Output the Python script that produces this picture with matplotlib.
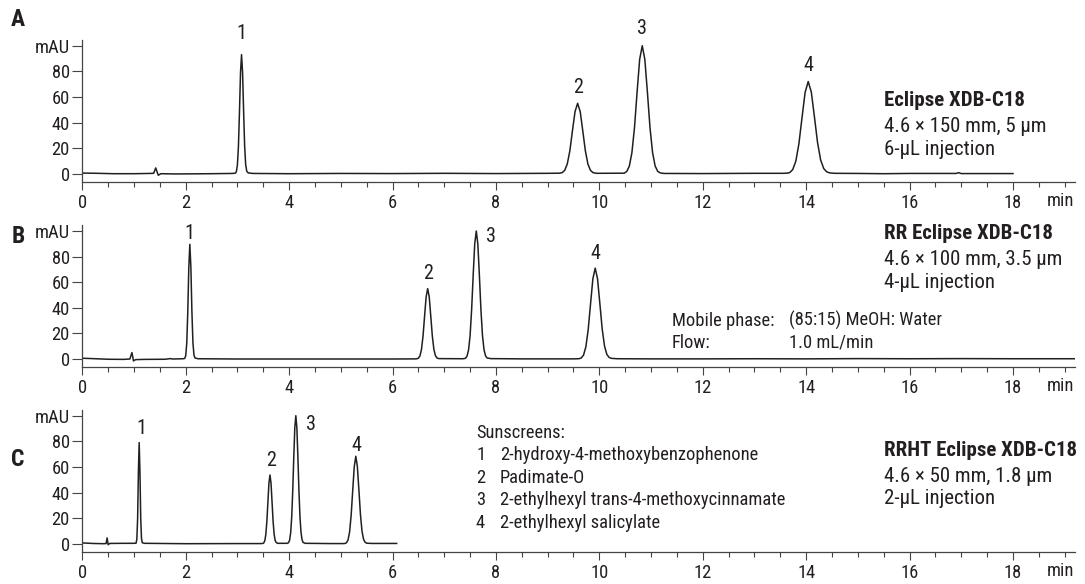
import numpy as np
import matplotlib
matplotlib.use('Agg')
import matplotlib.pyplot as plt

plt.rcParams['font.family'] = ['Roboto Condensed', 'Roboto', 'DejaVu Sans']

# chromatogram traces: time (min), signal (mAU)
a_time = [0.00, 0.30, 0.60, 1.00, 1.30, 1.38, 1.42, 1.45, 1.47, 1.52, 1.80, 2.50, 2.90,
          2.96, 2.98, 3.00, 3.02, 3.04, 3.06, 3.08, 3.10, 3.12, 3.14, 3.16, 3.18, 3.21, 3.30,
          4.0, 5.0, 6.0, 7.0, 8.0, 9.0, 9.23,
          9.28, 9.33, 9.38, 9.43, 9.48, 9.53, 9.58, 9.63, 9.68, 9.73, 9.78, 9.83, 9.88, 9.95,
          10.48, 10.53, 10.58, 10.63, 10.68, 10.73, 10.78, 10.83, 10.88, 10.93, 10.98, 11.03,
          11.08, 11.13, 11.18, 11.25,
          12.0, 13.0, 13.55,
          13.62, 13.68, 13.74, 13.80, 13.86, 13.92, 13.98, 14.04, 14.10, 14.16, 14.22, 14.28,
          14.34, 14.40, 14.46, 14.55,
          15.0, 15.5, 16.0, 16.9, 16.95, 17.0, 17.5, 18.0]
a_mau = [0.5, 0.3, 0.0, 0.0, 0.2, 0.3, 4.5, 1.0, -1.2, 0.0, -0.2, 0.0, 0.2,
         0.4, 1.6, 6.8, 21.6, 48.6, 79.0, 93.0, 79.0, 48.6, 21.6, 7.0, 2.0, 0.6, 0.2,
         0.0, 0.2, 0.1, 0.3, 0.1, 0.3, 0.4,
         0.8, 2.6, 7.6, 17.9, 33.5, 48.5, 55.0, 48.5, 33.4, 17.8, 7.4, 2.5, 0.8, 0.3,
         0.4, 1.7, 5.9, 16.4, 36.0, 63.6, 89.3, 100.0, 89.3, 63.6, 36.0, 16.4,
         5.9, 1.8, 0.6, 0.2,
         0.1, 0.3, 0.3,
         0.4, 0.8, 3.2, 9.7, 23.4, 43.7, 63.5, 72.0, 63.8, 44.5, 24.5, 10.8,
         4.0, 1.4, 0.6, 0.3,
         0.2, 0.0, 0.2, 0.2, 0.8, 0.1, 0.1, 0.1]

b_time = [0.00, 0.20, 0.50, 0.80, 0.92, 0.96, 0.99, 1.03, 1.20, 1.60, 1.70, 1.75, 1.95,
          1.98, 2.00, 2.02, 2.04, 2.06, 2.08, 2.10, 2.12, 2.14, 2.16, 2.18, 2.24,
          3.0, 4.0, 5.0, 6.0, 6.45,
          6.47, 6.50, 6.53, 6.56, 6.59, 6.62, 6.65, 6.68, 6.71, 6.74, 6.77, 6.80, 6.83, 6.86, 6.90,
          7.36, 7.41, 7.44, 7.47, 7.50, 7.53, 7.56, 7.59, 7.62, 7.65, 7.68, 7.71, 7.74, 7.77,
          7.80, 7.83, 7.90,
          8.5, 9.5, 9.58,
          9.605, 9.65, 9.695, 9.74, 9.785, 9.83, 9.875, 9.92, 9.965, 10.01, 10.055, 10.10,
          10.145, 10.19, 10.235, 10.35,
          11.0, 12.0, 13.0, 14.0, 15.0, 16.0, 17.0, 18.0, 19.2]
b_mau = [0.6, 0.3, -0.2, -0.3, 0.0, 5.0, -1.5, -0.5, -0.3, -0.2, 0.3, 0.0, 0.2,
         0.4, 2.5, 12.1, 36.7, 71.7, 89.6, 71.7, 36.8, 12.5, 3.0, 0.8, 0.2,
         0.0, 0.0, 0.0, 0.0, 0.1,
         0.2, 0.6, 2.4, 7.4, 17.9, 33.4, 48.5, 55.0, 48.5, 33.4, 17.9, 7.5, 2.6, 0.8, 0.3,
         0.2, 0.5, 2.1, 6.9, 18.1, 38.5, 65.4, 89.9, 100.0, 89.9, 65.4, 38.5, 18.3, 7.2,
         2.4, 0.8, 0.3,
         0.1, 0.1, 0.2,
         0.2, 0.8, 3.1, 9.6, 23.1, 43.1, 62.6, 71.0, 62.7, 43.4, 23.6, 10.2,
         3.6, 1.2, 0.5, 0.2,
         0.1, 0.1, 0.2, 0.1, 0.3, 0.2, 0.3, 0.2, 0.2]

c_time = [0.00, 0.20, 0.40, 0.46, 0.48, 0.50, 0.53, 0.80, 1.00, 1.04,
          1.055, 1.07, 1.085, 1.10, 1.115, 1.13, 1.145, 1.16, 1.20,
          2.0, 3.0, 3.45,
          3.49, 3.51, 3.53, 3.55, 3.57, 3.59, 3.61, 3.63, 3.65, 3.67, 3.69, 3.71, 3.73, 3.75, 3.78,
          3.96, 3.99, 4.01, 4.03, 4.05, 4.07, 4.09, 4.11, 4.13, 4.15, 4.17, 4.19, 4.21, 4.23,
          4.25, 4.27, 4.31,
          4.8, 5.05,
          5.08, 5.11, 5.14, 5.17, 5.20, 5.23, 5.26, 5.29, 5.32, 5.35, 5.38, 5.41, 5.44, 5.47,
          5.50, 5.60, 6.08]
c_mau = [0.6, 0.2, 0.0, 0.1, 4.5, -0.8, 0.2, 0.3, 0.3, 0.4,
         3.5, 19.7, 55.9, 79.0, 55.9, 19.9, 3.9, 0.8, 0.3,
         0.0, 0.1, 0.1,
         0.2, 0.6, 2.4, 7.3, 17.5, 32.6, 47.4, 53.7, 47.4, 32.6, 17.6, 7.5, 2.6, 0.9, 0.3,
         0.3, 0.8, 2.9, 8.5, 20.6, 41.1, 67.3, 90.6, 100.0, 90.6, 67.3, 41.3, 21.0, 8.9,
         3.2, 1.0, 0.3,
         0.1, 0.1,
         0.2, 0.75, 3.0, 9.2, 22.2, 41.5, 60.2, 68.3, 60.3, 41.8, 22.7, 9.7, 3.4, 1.1,
         0.4, 0.2, 0.2]

# peak apexes (label anchors)
peak_ids = ['1', '2', '3', '4']
a_peak_t = [3.08, 9.58, 10.83, 14.04]
a_peak_h = [93.0, 55.0, 100.0, 72.0]
b_peak_t = [2.08, 6.68, 7.62, 9.92]
b_peak_h = [89.6, 55.0, 100.0, 71.0]
c_peak_t = [1.10, 3.63, 4.13, 5.29]
c_peak_h = [79.0, 53.7, 100.0, 68.3]

panel_letters = ['A', 'B', 'C']
col_names = ['Eclipse XDB-C18', 'RR Eclipse XDB-C18', 'RRHT Eclipse XDB-C18']
col_dims = ['4.6 × 150 mm, 5 µm', '4.6 × 100 mm, 3.5 µm', '4.6 × 50 mm, 1.8 µm']
col_inj = ['6-µL injection', '4-µL injection', '2-µL injection']

sunscreens = ['2-hydroxy-4-methoxybenzophenone', 'Padimate-O',
              '2-ethylhexyl trans-4-methoxycinnamate', '2-ethylhexyl salicylate']

y_ticks = [0, 20, 40, 60, 80, 100]
y_ticklabels = ['0', '20', '40', '60', '80', 'mAU']

# layout (pixels)
W, H = 1085, 584
INK = '#231f20'
X0, X1 = 82.3, 1075.0
YMIN, YMAX = -6.3, 104.5
PX_PER_MAU = 1.28
zero_px = [173.7, 359.0, 543.7]
FS_TICK = 13.3
FS_PEAK = 14.5
FS_COL = 15
FS_NOTE = 13.3

# label offsets in pixels from apex, per panel
label_off = [
    [(0, 21), (0, 16), (0, 17), (0, 16)],
    [(0, 11), (0, 15), (15, -5), (0, 15)],
    [(2, 14), (1, 14), (15, -9), (1, 11)],
]


def fx(x):
    return x / W


def fy(y):
    return 1 - y / H


fig = plt.figure(figsize=(W / 100, H / 100), dpi=100)

traces = [(a_time, a_mau), (b_time, b_mau), (c_time, c_mau)]
peaks = [(a_peak_t, a_peak_h), (b_peak_t, b_peak_h), (c_peak_t, c_peak_h)]

for i in range(3):
    top = zero_px[i] - YMAX * PX_PER_MAU
    bot = zero_px[i] - YMIN * PX_PER_MAU
    ax = fig.add_axes([fx(X0), fy(bot), (X1 - X0) / W, (bot - top) / H])
    t, s = traces[i]
    ax.plot(t, s, color=INK, lw=1.1)
    ax.set_xlim(0, 19.2)
    ax.set_ylim(YMIN, YMAX)

    for side in ['top', 'right']:
        ax.spines[side].set_visible(False)
    for side in ['left', 'bottom']:
        ax.spines[side].set_color('#444444')
        ax.spines[side].set_linewidth(0.9)

    ax.set_xticks(np.arange(0, 19, 2))
    ax.set_xticks(np.arange(0, 19.01, 0.5), minor=True)
    ax.set_yticks(y_ticks)
    ax.set_yticklabels(y_ticklabels)
    ax.tick_params(axis='x', which='major', length=5.5, width=0.8, pad=3,
                   labelsize=FS_TICK, color='#444444', labelcolor=INK)
    ax.tick_params(axis='x', which='minor', length=3.6, width=0.8, color='#444444')
    ax.tick_params(axis='y', length=7, width=0.8, pad=2, labelsize=FS_TICK,
                   color='#444444', labelcolor=INK)
    ax.text(18.92, -19.4 / (bot - top), 'min', transform=ax.get_xaxis_transform(),
            ha='center', va='center', fontsize=FS_TICK, color=INK)

    pt, ph = peaks[i]
    for k in range(4):
        ax.annotate(peak_ids[k], xy=(pt[k], ph[k]), xytext=label_off[i][k],
                    textcoords='offset pixels', ha='center', va='center',
                    fontsize=FS_PEAK, color=INK, annotation_clip=False)

# panel letters
letter_y = [19, 236.7, 460]
for i in range(3):
    fig.text(fx(18), fy(letter_y[i]), panel_letters[i], fontsize=17,
             fontweight='bold', ha='center', va='center', color=INK)

# column descriptions
name_y = [100, 233.3, 450]
for i in range(3):
    fig.text(fx(884), fy(name_y[i]), col_names[i], fontsize=FS_COL, fontweight='bold',
             ha='left', va='center', color=INK)
    fig.text(fx(884), fy(name_y[i] + 26), col_dims[i], fontsize=FS_COL,
             ha='left', va='center', color=INK)
    fig.text(fx(884), fy(name_y[i] + 49), col_inj[i], fontsize=FS_COL,
             ha='left', va='center', color=INK)

# conditions
fig.text(fx(672), fy(320.7), 'Mobile phase:', fontsize=FS_NOTE, va='center', color=INK)
fig.text(fx(789), fy(320.7), '(85:15) MeOH: Water', fontsize=FS_NOTE, va='center', color=INK)
fig.text(fx(672), fy(342.7), 'Flow:', fontsize=FS_NOTE, va='center', color=INK)
fig.text(fx(789), fy(342.7), '1.0 mL/min', fontsize=FS_NOTE, va='center', color=INK)

# sunscreen key
fig.text(fx(476), fy(433.3), 'Sunscreens:', fontsize=FS_NOTE, va='center', color=INK)
for k, name in enumerate(sunscreens):
    yy = 455 + k * 22.6
    fig.text(fx(476), fy(yy), peak_ids[k], fontsize=FS_NOTE, va='center', color=INK)
    fig.text(fx(500), fy(yy), name, fontsize=FS_NOTE, va='center', color=INK)

fig.savefig('out.png', dpi=100)
